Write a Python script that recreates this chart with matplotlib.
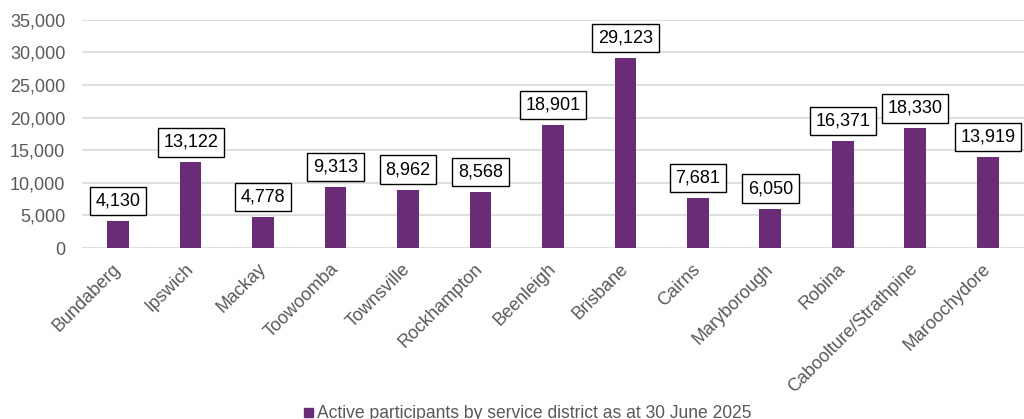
import matplotlib
matplotlib.use("Agg")
import matplotlib.pyplot as plt
from matplotlib.ticker import FuncFormatter, MultipleLocator
from matplotlib.transforms import ScaledTranslation

categories = ["Bundaberg", "Ipswich", "Mackay", "Toowoomba", "Townsville", "Rockhampton",
              "Beenleigh", "Brisbane", "Cairns", "Maryborough", "Robina",
              "Caboolture/Strathpine", "Maroochydore"]
values = [4130, 13122, 4778, 9313, 8962, 8568, 18901, 29123, 7681, 6050, 16371, 18330, 13919]
series_name = "Active participants by service district as at 30 June 2025"

purple = "#6B2C77"
grey = "#595959"
plt.rcParams['font.family'] = ['Liberation Sans', 'DejaVu Sans']

fig = plt.figure(figsize=(10.24, 4.19), dpi=100)
ax = fig.add_axes([0.080, 0.408, 0.920, 0.545])

x = list(range(len(categories)))
ax.bar(x, values, width=0.30, color=purple, zorder=3)
ax.set_xlim(-0.5, len(categories) - 0.5)
ax.set_ylim(0, 35000)
ax.yaxis.set_major_locator(MultipleLocator(5000))
ax.yaxis.set_major_formatter(FuncFormatter(lambda v, p: f"{int(v):,}"))
ax.grid(axis='y', color="#D9D9D9", linewidth=1.2, zorder=0)
for s in ax.spines.values():
    s.set_visible(False)
ax.tick_params(axis='y', length=0, labelsize=13, labelcolor=grey, pad=12)
ax.tick_params(axis='x', length=0, labelsize=13, labelcolor=grey, pad=9)
ax.set_xticks(x)
ax.set_xticklabels(categories, rotation=45, ha='right', rotation_mode='anchor')
for lbl in ax.get_xticklabels():
    lbl.set_transform(lbl.get_transform() + ScaledTranslation(-0.06, 0.0, fig.dpi_scale_trans))

for xi, v in zip(x, values):
    ax.annotate(f"{v:,}", (xi, v), xytext=(0, 8.3), textcoords='offset points',
                ha='center', va='bottom', fontsize=13, color='black',
                bbox=dict(boxstyle='square,pad=0.31', fc='white', ec='black', lw=1.0),
                zorder=4)

fig.patches.append(plt.Rectangle((0.2969, 0.0048), 0.0088, 0.0215, transform=fig.transFigure,
                                 color=purple, figure=fig))
fig.text(0.3096, 0.003, series_name, fontsize=12.65, color=grey, ha='left', va='baseline')

fig.savefig("out.png", dpi=100)
